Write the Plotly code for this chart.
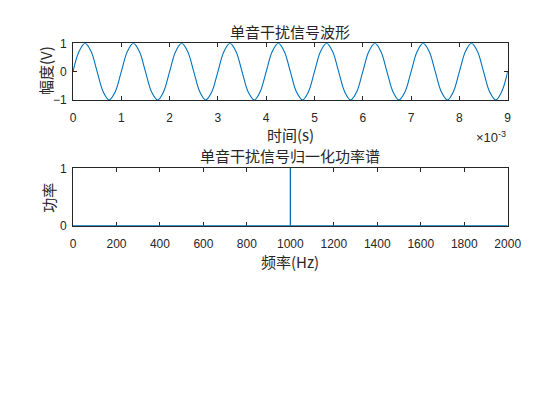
import plotly.graph_objects as go

# --- data ---
# time in units of 1e-3 s (samples every 0.125 ms)
t_ms = [0, 0.125, 0.25, 0.375, 0.5, 0.625, 0.75, 0.875,
        1, 1.125, 1.25, 1.375, 1.5, 1.625, 1.75, 1.875,
        2, 2.125, 2.25, 2.375, 2.5, 2.625, 2.75, 2.875,
        3, 3.125, 3.25, 3.375, 3.5, 3.625, 3.75, 3.875,
        4, 4.125, 4.25, 4.375, 4.5, 4.625, 4.75, 4.875,
        5, 5.125, 5.25, 5.375, 5.5, 5.625, 5.75, 5.875,
        6, 6.125, 6.25, 6.375, 6.5, 6.625, 6.75, 6.875,
        7, 7.125, 7.25, 7.375, 7.5, 7.625, 7.75, 7.875,
        8, 8.125, 8.25, 8.375, 8.5, 8.625, 8.75, 8.875,
        9]
amplitude = [0, 0.71, 1, 0.71, 0, -0.71, -1, -0.71,
             0, 0.71, 1, 0.71, 0, -0.71, -1, -0.71,
             0, 0.71, 1, 0.71, 0, -0.71, -1, -0.71,
             0, 0.71, 1, 0.71, 0, -0.71, -1, -0.71,
             0, 0.71, 1, 0.71, 0, -0.71, -1, -0.71,
             0, 0.71, 1, 0.71, 0, -0.71, -1, -0.71,
             0, 0.71, 1, 0.71, 0, -0.71, -1, -0.71,
             0, 0.71, 1, 0.71, 0, -0.71, -1, -0.71,
             0, 0.71, 1, 0.71, 0, -0.71, -1, -0.71,
             0]

freq_hz = [0, 1000, 1000, 1000, 2000]
power = [0, 0, 1, 0, 0]

time_ticks = [0, 1, 2, 3, 4, 5, 6, 7, 8, 9]
amp_ticks = [-1, 0, 1]
freq_ticks = [0, 200, 400, 600, 800, 1000, 1200, 1400, 1600, 1800, 2000]
power_ticks = [0, 1]

title1 = "单音干扰信号波形"
title2 = "单音干扰信号归一化功率谱"
xlabel1 = "时间(s)"
ylabel1 = "幅度(V)"
xlabel2 = "频率(Hz)"
ylabel2 = "功率"

LINE = "#0072BD"
AX = "#262626"
CJK = "Noto Sans CJK SC"
NUM = "Liberation Sans, Arial, sans-serif"

fig = go.Figure()
fig.add_trace(go.Scatter(x=t_ms, y=amplitude, mode="lines",
                         line=dict(color=LINE, width=1.1, shape="spline", smoothing=1.0),
                         xaxis="x", yaxis="y", hoverinfo="skip"))
fig.add_trace(go.Scatter(x=freq_hz, y=power, mode="lines",
                         line=dict(color=LINE, width=1.3),
                         xaxis="x2", yaxis="y2", hoverinfo="skip"))

axis_common = dict(showgrid=False, zeroline=False, showline=True, linecolor=AX,
                   linewidth=1, mirror="ticks", ticks="inside", ticklen=4,
                   tickcolor=AX, tickwidth=1, automargin=False,
                   tickfont=dict(family=NUM, size=12, color=AX))

xd = [73 / 560, 507.7 / 560]
fig.update_layout(
    width=560, height=420,
    margin=dict(l=0, r=0, t=0, b=0, pad=0),
    paper_bgcolor="white", plot_bgcolor="white",
    showlegend=False,
    xaxis=dict(domain=xd, anchor="y", range=[0, 9], tickvals=time_ticks,
               ticklabelstandoff=7, **axis_common),
    yaxis=dict(domain=[1 - 100 / 420, 1 - 43.3 / 420], anchor="x", range=[-1, 1],
               tickvals=amp_ticks, ticklabelstandoff=3, **axis_common),
    xaxis2=dict(domain=xd, anchor="y2", range=[0, 2000], tickvals=freq_ticks,
                ticklabelstandoff=7, layer="below traces", **axis_common),
    yaxis2=dict(domain=[1 - 226 / 420, 1 - 168.3 / 420], anchor="x2", range=[0, 1],
                tickvals=power_ticks, ticklabelstandoff=3, **axis_common),
)

cx = (73 + 507.7) / 2 / 560
ann = [
    dict(text=title1, x=cx, y=1 - 31.7 / 420, size=15),
    dict(text=title2, x=cx, y=1 - 155 / 420, size=15),
    dict(text=xlabel1, x=cx, y=1 - 134 / 420, size=15),
    dict(text=xlabel2, x=cx, y=1 - 261.5 / 420, size=15),
]
for a in ann:
    fig.add_annotation(text=a["text"], x=a["x"], y=a["y"], xref="paper", yref="paper",
                       xanchor="center", yanchor="middle", showarrow=False,
                       font=dict(family=CJK, size=a["size"], color=AX))
fig.add_annotation(text=ylabel1, x=45 / 560, y=1 - 71 / 420, xref="paper", yref="paper",
                   xanchor="center", yanchor="middle", showarrow=False, textangle=-90,
                   font=dict(family=CJK, size=15, color=AX))
fig.add_annotation(text=ylabel2, x=48.3 / 560, y=1 - 197.5 / 420, xref="paper", yref="paper",
                   xanchor="center", yanchor="middle", showarrow=False, textangle=-90,
                   font=dict(family=CJK, size=15, color=AX))
fig.add_annotation(text="×10<sup>-3</sup>", x=508 / 560, y=1 - 137 / 420, xref="paper",
                   yref="paper", xanchor="right", yanchor="middle", showarrow=False,
                   font=dict(family=NUM, size=13, color=AX))

fig.write_html("out.html", config={"displayModeBar": False},
               post_script="document.body.style.margin='0';document.body.style.overflow='hidden';")
